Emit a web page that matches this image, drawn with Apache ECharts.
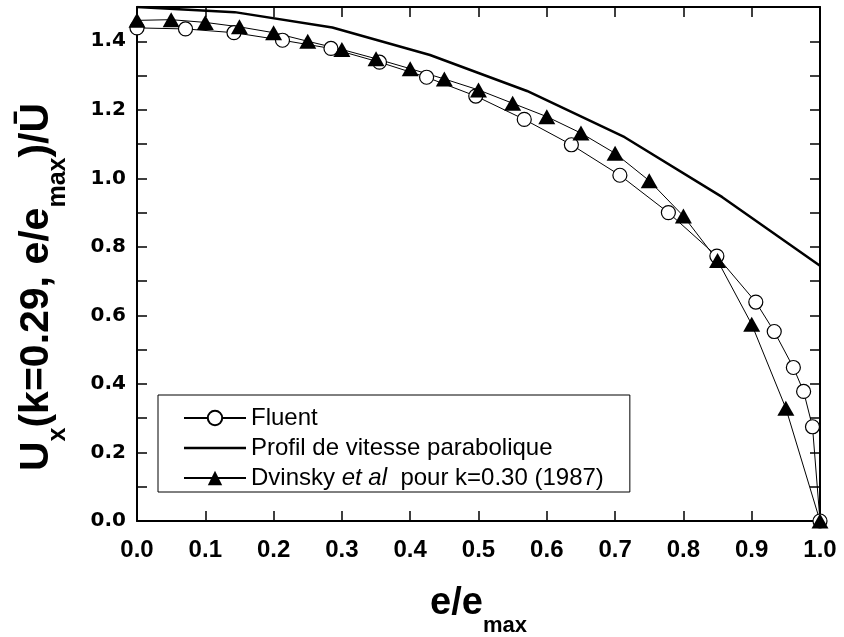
<!DOCTYPE html>
<html>
<head>
<meta charset="utf-8">
<script src="https://cdn.jsdelivr.net/npm/echarts@6/dist/echarts.min.js"></script>
<style>
  html, body { margin: 0; padding: 0; background: #fff; }
  #main { width: 844px; height: 637px; }
</style>
</head>
<body>
<div id="main"></div>
<script>
// profil de vitesse : Fluent vs parabole vs Dvinsky (1987)
var fluentX = [0, 0.071, 0.142, 0.213, 0.284, 0.355, 0.424, 0.496, 0.567, 0.636,
               0.707, 0.778, 0.849, 0.906, 0.933, 0.961, 0.976, 0.989, 1.0];
var fluentY = [1.439, 1.436, 1.425, 1.403, 1.379, 1.339, 1.295, 1.240, 1.172, 1.098,
               1.009, 0.900, 0.773, 0.639, 0.553, 0.448, 0.378, 0.275, 0.0];

var paraX = [0, 0.143, 0.286, 0.429, 0.571, 0.714, 0.857, 1.0];
var paraY = [1.50, 1.485, 1.44, 1.36, 1.255, 1.12, 0.945, 0.745];

var dvinskyX = [0, 0.05, 0.1, 0.15, 0.2, 0.25, 0.3, 0.35, 0.4, 0.45, 0.5,
                0.55, 0.6, 0.65, 0.7, 0.75, 0.8, 0.85, 0.9, 0.95, 1.0];
var dvinskyY = [1.461, 1.463, 1.455, 1.442, 1.425, 1.40, 1.376, 1.349, 1.320, 1.29, 1.258,
                1.219, 1.18, 1.132, 1.073, 0.993, 0.89, 0.76, 0.574, 0.329, 0.0];

var seriesNames = ['Fluent', 'Profil de vitesse parabolique', 'Dvinsky et al  pour k=0.30 (1987)'];

function pairs(xs, ys) {
    return xs.map(function (x, i) { return [x, ys[i]]; });
}

var myChart = echarts.init(document.getElementById('main'));

var tickStyle = {
    show: true,
    inside: true,
    length: 10,
    lineStyle: { color: '#000', width: 1.5 }
};
var lineAxis = { onZero: false, lineStyle: { color: '#000', width: 2 } };

myChart.setOption({
    backgroundColor: '#fff',
    animation: false,
    grid: { left: 137, right: 24, top: 7, bottom: 116, outerBoundsMode: 'none', containLabel: false },
    legend: {
        orient: 'vertical',
        left: 158,
        top: 395,
        data: [
            seriesNames[0],
            { name: seriesNames[1], icon: 'path://M0,0L62,0L62,2.5L0,2.5Z' },
            seriesNames[2]
        ],
        itemWidth: 62,
        itemHeight: 18,
        itemGap: 6,
        padding: [11, 26, 2, 25],
        borderColor: '#000',
        borderWidth: 1,
        borderRadius: 0,
        textStyle: {
            fontFamily: 'Liberation Sans, Arial, sans-serif',
            fontSize: 24,
            color: '#000',
            rich: {
                n: { fontFamily: 'Liberation Sans, Arial, sans-serif', fontSize: 24, color: '#000' },
                i: { fontFamily: 'Liberation Sans, Arial, sans-serif', fontSize: 24, color: '#000', fontStyle: 'italic' }
            }
        },
        formatter: function (name) {
            if (name.indexOf('Dvinsky') === 0) {
                return '{n|Dvinsky }{i|et al}{n|  pour k=0.30 (1987)}';
            }
            return name;
        }
    },
    xAxis: [{
        type: 'value',
        min: 0,
        max: 1,
        interval: 0.1,
        name: '{m|e/e}{s|max}',
        nameLocation: 'middle',
        nameGap: 50,
        nameTextStyle: {
            rich: {
                m: { fontFamily: 'Liberation Sans, Arial, sans-serif', fontSize: 38, fontWeight: 'bold', color: '#000' },
                s: { fontFamily: 'Liberation Sans, Arial, sans-serif', fontSize: 22, fontWeight: 'bold', color: '#000', padding: [44, 0, 0, 0] }
            }
        },
        axisLine: lineAxis,
        axisTick: tickStyle,
        splitLine: { show: false },
        axisLabel: {
            margin: 17,
            fontFamily: 'Liberation Sans, Arial, sans-serif',
            fontSize: 24,
            fontWeight: 'bold',
            color: '#000',
            formatter: function (v) { return v.toFixed(1); }
        }
    }, {
        type: 'value',
        position: 'top',
        min: 0,
        max: 1,
        interval: 0.1,
        axisLine: lineAxis,
        axisTick: tickStyle,
        axisLabel: { show: false },
        splitLine: { show: false }
    }],
    yAxis: [{
        type: 'value',
        min: 0,
        max: 1.5,
        interval: 0.1,
        name: '{m|U}{s|x}{m|(k=0.29, e/e}{s|max}{m|)/Ū}',
        nameLocation: 'middle',
        nameRotate: 90,
        nameGap: 66,
        nameTextStyle: {
            padding: [0, 46, 0, 0],
            rich: {
                m: { fontFamily: 'Liberation Sans, Arial, sans-serif', fontSize: 41, fontWeight: 'bold', color: '#000' },
                s: { fontFamily: 'Liberation Sans, Arial, sans-serif', fontSize: 25, fontWeight: 'bold', color: '#000', padding: [44, 0, 0, 0] }
            }
        },
        axisLine: lineAxis,
        axisTick: tickStyle,
        splitLine: { show: false },
        axisLabel: {
            margin: 11,
            fontFamily: 'DejaVu Sans, sans-serif',
            fontSize: 20,
            fontWeight: 'bold',
            color: '#000',
            formatter: function (v) {
                return Math.round(v * 10) % 2 === 0 ? v.toFixed(1) : '';
            }
        }
    }, {
        type: 'value',
        position: 'right',
        min: 0,
        max: 1.5,
        interval: 0.1,
        axisLine: lineAxis,
        axisTick: tickStyle,
        axisLabel: { show: false },
        splitLine: { show: false }
    }],
    series: [
        {
            name: seriesNames[0],
            type: 'line',
            data: pairs(fluentX, fluentY),
            symbol: 'circle',
            symbolSize: 14,
            lineStyle: { color: '#000', width: 1 },
            itemStyle: { color: '#fff', borderColor: '#000', borderWidth: 1.2 }
        },
        {
            name: seriesNames[1],
            type: 'line',
            data: pairs(paraX, paraY),
            symbol: 'none',
            lineStyle: { color: '#000', width: 2.5 },
            itemStyle: { color: '#000' }
        },
        {
            name: seriesNames[2],
            type: 'line',
            data: pairs(dvinskyX, dvinskyY),
            symbol: 'triangle',
            symbolSize: [17, 15],
            lineStyle: { color: '#000', width: 1 },
            itemStyle: { color: '#000' }
        }
    ]
});
</script>
</body>
</html>
